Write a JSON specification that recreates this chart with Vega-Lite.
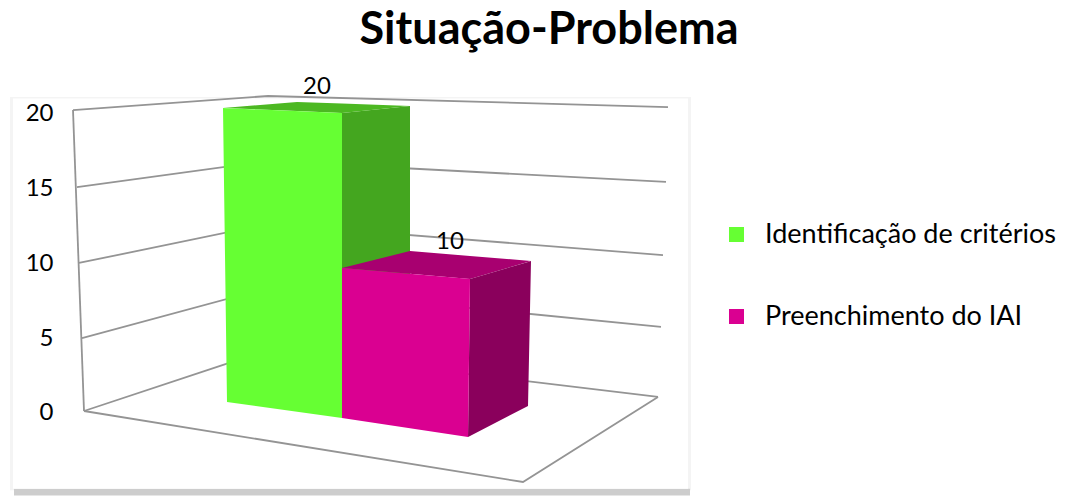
{
"$schema":"https://vega.github.io/schema/vega-lite/v6.json",
"width":1068,"height":496,"padding":0,"autosize":{"type":"none"},"background":"white",
"title":{"text":"Situação-Problema","font":"Lato","fontSize":45,"fontWeight":"bold","color":"#000000","anchor":"middle","dx":15,"dy":44,"offset":-45,"baseline":"alphabetic"},
"config":{"view":{"stroke":null},"font":"Lato"},
"datasets":{
"grid":[
{"line":"wall","x":73,"y":20.13},{"line":"wall","x":84,"y":0},
{"line":"g20","x":73,"y":20.13},{"line":"g20","x":268,"y":21.07},{"line":"g20","x":668,"y":20.33},
{"line":"g15","x":77,"y":14.98},{"line":"g15","x":268,"y":16.72},{"line":"g15","x":666,"y":15.32},
{"line":"g10","x":79,"y":9.9},{"line":"g10","x":268,"y":12.51},{"line":"g10","x":663,"y":10.43},
{"line":"g5","x":82,"y":4.88},{"line":"g5","x":268,"y":8.23},{"line":"g5","x":661,"y":5.62},
{"line":"g0","x":84,"y":0},{"line":"g0","x":268,"y":4.08},{"line":"g0","x":658,"y":0.94},
{"line":"floor","x":84,"y":0},{"line":"floor","x":523,"y":-4.75},{"line":"floor","x":658,"y":0.94}
],
"faces":[
{"series":"Identificação de critérios","face":"side","x":342,"y":19.93,"y2":7.42},
{"series":"Identificação de critérios","face":"side","x":410,"y":20.4,"y2":7.42},
{"series":"Identificação de critérios","face":"top","x":223,"y":20.27,"y2":20.27},
{"series":"Identificação de critérios","face":"top","x":297,"y":20.67,"y2":20.06},
{"series":"Identificação de critérios","face":"top","x":342,"y":20.56,"y2":19.93},
{"series":"Identificação de critérios","face":"top","x":410,"y":20.4,"y2":20.4},
{"series":"Identificação de critérios","face":"front","x":223,"y":20.27,"y2":20.27},
{"series":"Identificação de critérios","face":"front","x":227,"y":20.25,"y2":0.6},
{"series":"Identificação de critérios","face":"front","x":342,"y":19.93,"y2":-0.47},
{"series":"Preenchimento do IAI","face":"side","x":468,"y":-1.74,"y2":-1.74},
{"series":"Preenchimento do IAI","face":"side","x":470,"y":8.83,"y2":-1.67},
{"series":"Preenchimento do IAI","face":"side","x":528,"y":9.97,"y2":0.33},
{"series":"Preenchimento do IAI","face":"side","x":531,"y":10.03,"y2":10.03},
{"series":"Preenchimento do IAI","face":"top","x":342,"y":9.57,"y2":9.57},
{"series":"Preenchimento do IAI","face":"top","x":410,"y":10.7,"y2":9.18},
{"series":"Preenchimento do IAI","face":"top","x":470,"y":10.37,"y2":8.83},
{"series":"Preenchimento do IAI","face":"top","x":531,"y":10.03,"y2":10.03},
{"series":"Preenchimento do IAI","face":"front","x":342,"y":9.57,"y2":-0.47},
{"series":"Preenchimento do IAI","face":"front","x":468,"y":8.84,"y2":-1.74},
{"series":"Preenchimento do IAI","face":"front","x":470,"y":8.83,"y2":8.83}
],
"labels":[{"series":"Identificação de critérios","value":20,"x":317,"y":21.67},{"series":"Preenchimento do IAI","value":10,"x":450,"y":11.3}]
},
"encoding":{
"x":{"field":"x","type":"quantitative","scale":{"domain":[0,1068],"nice":false,"zero":false},"axis":null},
"y":{"field":"y","type":"quantitative","scale":{"domain":[-5.686,27.49],"nice":false,"zero":false}}
},
"layer":[
{"data":{"values":[{"x":10,"x2":691,"y":21.0,"y2":-5.3}]},"mark":{"type":"rect","color":"#f4f4f4"},"encoding":{"x2":{"field":"x2"},"y":{"field":"y","type":"quantitative","axis":{"values":[0,5,10,15,20],"title":null,"domain":false,"ticks":false,"grid":false,"labelPadding":-53,"labelOffset":2,"labelFontSize":24,"labelFont":"Lato","labelColor":"#000000","labelAlign":"right","zindex":1}},"y2":{"field":"y2"}}},
{"data":{"values":[{"x":14,"x2":690,"y":-5.2,"y2":-5.65}]},"mark":{"type":"rect","color":"#cdcdcd"},"encoding":{"x2":{"field":"x2"},"y2":{"field":"y2"}}},
{"data":{"values":[{"x":13,"x2":688,"y":20.9,"y2":-5.2}]},"mark":{"type":"rect","color":"#ffffff"},"encoding":{"x2":{"field":"x2"},"y2":{"field":"y2"}}},
{"data":{"name":"grid"},"mark":{"type":"line","color":"#949494","strokeWidth":1.8},"encoding":{"detail":{"field":"line"}}},
{"data":{"name":"faces"},"transform":[{"filter":"datum.series==='Identificação de critérios' && datum.face==='side'"}],"mark":{"type":"area","color":"#44A61F"},"encoding":{"y":{"field":"y","type":"quantitative","stack":null},"y2":{"field":"y2"}}},
{"data":{"name":"faces"},"transform":[{"filter":"datum.series==='Identificação de critérios' && datum.face==='top'"}],"mark":{"type":"area","color":"#4CB822"},"encoding":{"y":{"field":"y","type":"quantitative","stack":null},"y2":{"field":"y2"}}},
{"data":{"name":"faces"},"transform":[{"filter":"datum.series==='Preenchimento do IAI' && datum.face==='top'"}],"mark":{"type":"area","color":"#A80070"},"encoding":{"y":{"field":"y","type":"quantitative","stack":null},"y2":{"field":"y2"}}},
{"data":{"name":"faces"},"transform":[{"filter":"datum.series==='Preenchimento do IAI' && datum.face==='side'"}],"mark":{"type":"area","color":"#8A005C"},"encoding":{"y":{"field":"y","type":"quantitative","stack":null},"y2":{"field":"y2"}}},
{"data":{"name":"faces"},"transform":[{"filter":"datum.face==='front'"}],"mark":{"type":"area"},"encoding":{"y":{"field":"y","type":"quantitative","stack":null},"y2":{"field":"y2"},"color":{"field":"series","type":"nominal","scale":{"domain":["Identificação de critérios","Preenchimento do IAI"],"range":["#66FF33","#DA0091"]},"legend":{"title":null,"orient":"none","legendX":723,"legendY":221,"symbolType":"square","symbolSize":225,"symbolStrokeWidth":0,"labelFont":"Lato","labelFontSize":27,"labelColor":"#000000","labelOffset":15,"rowPadding":54,"labelLimit":340}}}},
{"data":{"name":"labels"},"mark":{"type":"text","font":"Lato","fontSize":24,"color":"#000000","align":"center","baseline":"middle"},"encoding":{"text":{"field":"value","type":"quantitative"}}}
]
}
